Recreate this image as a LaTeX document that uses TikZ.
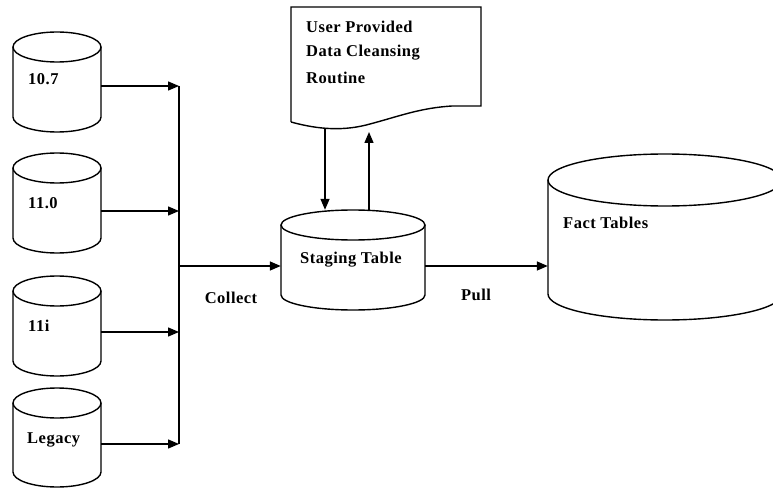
\documentclass[tikz,border=0pt]{standalone}
\usepackage{fontspec}
\setmainfont{Liberation Serif}
\newfontfamily\lblfont[LetterSpace=3]{Liberation Serif}
\usetikzlibrary{arrows.meta}

% drum outline: left x, right x, top-ellipse y, bottom-ellipse y, ellipse half-height
\newcommand\drumshape[5]{%
  \draw[stroke] (#1pt,-#3pt) -- (#1pt,-#4pt)
    arc[start angle=180, end angle=360, x radius={(#2-#1)/2*1pt}, y radius=#5pt]
    -- (#2pt,-#3pt);
  \draw[stroke] ({(#1+#2)/2*1pt},-#3pt) ellipse[x radius={(#2-#1)/2*1pt}, y radius=#5pt];
}

\tikzset{
  stroke/.style={line width=1.4pt, black},
  link/.style={line width=1.4pt, black, -{Triangle[length=11pt,width=9pt]}},
  body/.style={draw=none, inner sep=0pt, rectangle},
  lbl/.style={font=\lblfont\bfseries\fontsize{16.5}{25.5}\selectfont, inner sep=0pt, text=black},
}

\begin{document}
\begin{tikzpicture}[x=1pt,y=1pt]
\useasboundingbox (0,0) rectangle (773,-489);
\fill[white] (0,0) rectangle (773,-489);
\begin{scope}
\clip (0,0) rectangle (773,-489);

% source drums
\drumshape{13}{101}{47}{117}{15}
\drumshape{13}{101}{168}{238}{15}
\drumshape{13}{101}{291}{361}{15}
\drumshape{13}{101}{403}{472}{15}
\node[body, minimum width=88pt, minimum height=100pt] (s107) at (57,-82) {};
\node[body, minimum width=88pt, minimum height=100pt] (s110) at (57,-203) {};
\node[body, minimum width=88pt, minimum height=100pt] (s11i) at (57,-326) {};
\node[body, minimum width=88pt, minimum height=100pt] (sleg) at (57,-437) {};
\node[lbl, anchor=west] at (28,-79) {10.7};
\node[lbl, anchor=west] at (28,-203) {11.0};
\node[lbl, anchor=west] at (28,-326) {11i};
\node[lbl, anchor=west] at (27,-440) {Legacy};

% collecting bus
\coordinate (b107) at (179,-86);
\coordinate (b110) at (179,-211);
\coordinate (bmid) at (179,-266);
\coordinate (b11i) at (179,-332);
\coordinate (bleg) at (179,-444);
\draw[stroke] (b107) -- (bleg);
\draw[link] (b107 -| s107.east) -- (b107);
\draw[link] (b110 -| s110.east) -- (b110);
\draw[link] (b11i -| s11i.east) -- (b11i);
\draw[link] (bleg -| sleg.east) -- (bleg);

% staging table
\drumshape{281}{425}{225}{295}{15}
\node[body, minimum width=144pt, minimum height=100pt] (stage) at (353,-260) {};
\node[lbl] at (351,-260) {Staging Table};
\draw[link] (bmid) -- (bmid -| stage.west);
\node[lbl] at (231,-298) {Collect};

% cleansing routine document
\draw[stroke] (291,-122) -- (291,-7) -- (481,-7) -- (481,-106) -- (452,-106)
  .. controls (420,-108) and (400,-116) .. (370,-124)
  .. controls (345,-131) and (320,-130) .. (291,-122);
\node[body, minimum width=190pt, minimum height=115pt] (routine) at (386,-65) {};
\node[lbl, anchor=west] at (306,-27) {User Provided};
\node[lbl, anchor=west] at (306,-53) {Data Cleansing};
\node[lbl, anchor=west] at (306,-78) {Routine};
\coordinate (rdown) at (325,-128);
\coordinate (rup) at (369,-132);
\draw[link] (rdown) -- (rdown |- stage.north);
\draw[link] (rup |- stage.north) -- (rup);

% fact tables
\drumshape{548}{782}{180}{294}{26}
\node[body, minimum width=234pt, minimum height=166pt] (fact) at (665,-237) {};
\node[lbl, anchor=west] at (563,-223) {Fact Tables};
\draw[link] ([yshift=-6pt]stage.east) -- ([yshift=-6pt]stage.east -| fact.west);
\node[lbl] at (476,-295) {Pull};
\end{scope}
\end{tikzpicture}
\end{document}
